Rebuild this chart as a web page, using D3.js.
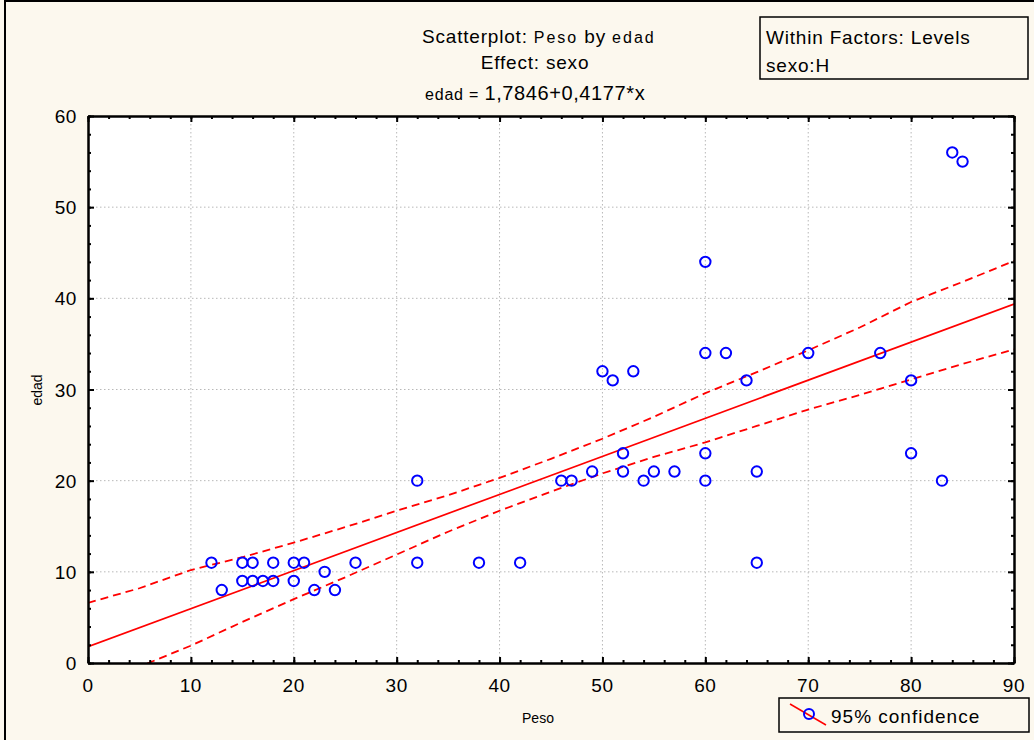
<!DOCTYPE html>
<html>
<head>
<meta charset="utf-8">
<script src="https://d3js.org/d3.v7.min.js"></script>
<style>
body { margin: 0; background: #fcf8ee; }
svg { display: block; font-family: "Liberation Sans", Arial, sans-serif; }
</style>
</head>
<body>
<div id="chart"></div>
<script>
// data
var peso = [12, 13, 15, 15, 16, 16, 17, 18, 18, 20, 20, 21, 22, 23, 24, 26,
            32, 32, 38, 42, 46, 47, 49, 50, 51, 52, 52, 53, 54, 55, 57,
            60, 60, 60, 60, 62, 64, 65, 65, 70, 77, 80, 80, 83, 84, 85];
var edad = [11, 8, 11, 9, 11, 9, 9, 11, 9, 11, 9, 11, 8, 10, 8, 11,
            20, 11, 11, 11, 20, 20, 21, 32, 31, 23, 21, 32, 20, 21, 21,
            44, 34, 23, 20, 34, 31, 21, 11, 34, 34, 31, 23, 20, 56, 55];

var intercept = 1.7846,
    slope = 0.4177;

// 95% confidence band
var bandX =     [0, 5, 10, 15, 20, 25, 30, 35, 40, 45, 50, 55, 60, 65, 70, 75, 80, 85, 90];
var bandUpper = [6.6, 8.2, 10.2, 11.6, 13.2, 14.9, 16.7, 18.4, 20.3, 22.4, 24.6, 27.0, 29.6, 31.9, 34.3, 36.8, 39.6, 41.8, 44.1];
var bandLower = [-3.0, -0.4, 1.9, 4.5, 7.0, 9.4, 11.9, 14.4, 16.7, 18.8, 20.8, 22.6, 24.2, 26.0, 27.8, 29.4, 31.1, 32.8, 34.4];

var xTicks = [0, 10, 20, 30, 40, 50, 60, 70, 80, 90];
var yTicks = [0, 10, 20, 30, 40, 50, 60];

(function() {
    var width = 1034,
        height = 740;

    var mLeft = 88, mRight = 1014, mTop = 116, mBottom = 663;

    var svg = d3.select("#chart")
        .append("svg")
        .attr("width", width)
        .attr("height", height);

    // outer frame
    svg.append("rect")
        .attr("x", 5).attr("y", 1)
        .attr("width", 1040).attr("height", 760)
        .attr("fill", "#fcf8ee")
        .attr("stroke", "#000")
        .attr("stroke-width", 2);

    var x = d3.scaleLinear().domain([0, 90]).range([mLeft, mRight]);
    var y = d3.scaleLinear().domain([0, 60]).range([mBottom, mTop]);

    svg.append("clipPath").attr("id", "plotclip")
        .append("rect")
        .attr("x", mLeft).attr("y", mTop)
        .attr("width", mRight - mLeft).attr("height", mBottom - mTop);

    svg.append("rect")
        .attr("x", mLeft).attr("y", mTop)
        .attr("width", mRight - mLeft).attr("height", mBottom - mTop)
        .attr("fill", "#fff");

    // grid
    var grid = svg.append("g");
    grid.selectAll(".gx")
        .data(xTicks.slice(1, -1))
        .enter().append("line")
        .attr("x1", function(d) { return x(d); })
        .attr("x2", function(d) { return x(d); })
        .attr("y1", mTop).attr("y2", mBottom)
        .attr("stroke", "#b8b8b8")
        .attr("stroke-dasharray", "1.5,2.5");
    grid.selectAll(".gy")
        .data(yTicks.slice(1, -1))
        .enter().append("line")
        .attr("y1", function(d) { return y(d); })
        .attr("y2", function(d) { return y(d); })
        .attr("x1", mLeft).attr("x2", mRight)
        .attr("stroke", "#b8b8b8")
        .attr("stroke-dasharray", "1.5,2.5");

    // fit and confidence band
    var plot = svg.append("g").attr("clip-path", "url(#plotclip)");

    plot.append("line")
        .attr("x1", x(0)).attr("y1", y(intercept))
        .attr("x2", x(90)).attr("y2", y(intercept + slope * 90))
        .attr("stroke", "#f00")
        .attr("stroke-width", 1.7);

    var band = d3.line()
        .x(function(d) { return x(d[0]); })
        .y(function(d) { return y(d[1]); });

    [bandUpper, bandLower].forEach(function(vals) {
        plot.append("path")
            .attr("d", band(bandX.map(function(v, i) { return [v, vals[i]]; })))
            .attr("fill", "none")
            .attr("stroke", "#f00")
            .attr("stroke-width", 1.8)
            .attr("stroke-dasharray", "8,5");
    });

    // points
    svg.selectAll(".pt")
        .data(peso)
        .enter().append("circle")
        .attr("class", "pt")
        .attr("cx", function(d) { return x(d); })
        .attr("cy", function(d, i) { return y(edad[i]); })
        .attr("r", 5.2)
        .attr("fill", "none")
        .attr("stroke", "#00f")
        .attr("stroke-width", 2);

    // axes with inner ticks on all sides
    function frameAxis(axis, tr) {
        var g = svg.append("g").attr("transform", tr).call(axis);
        g.selectAll("path, line").attr("stroke", "#000").attr("stroke-width", 2);
        g.selectAll("text").remove();
        return g;
    }
    var xMinor = d3.range(0, 91, 2), yMinor = d3.range(0, 61, 2);

    frameAxis(d3.axisBottom(x).tickValues(xMinor).tickSizeInner(-3).tickSizeOuter(0), "translate(0," + mBottom + ")");
    frameAxis(d3.axisBottom(x).tickValues(xTicks).tickSizeInner(-6).tickSizeOuter(0), "translate(0," + mBottom + ")");
    frameAxis(d3.axisTop(x).tickValues(xMinor).tickSizeInner(-3).tickSizeOuter(0), "translate(0," + mTop + ")");
    frameAxis(d3.axisTop(x).tickValues(xTicks).tickSizeInner(-6).tickSizeOuter(0), "translate(0," + mTop + ")");
    frameAxis(d3.axisLeft(y).tickValues(yMinor).tickSizeInner(-3).tickSizeOuter(0), "translate(" + mLeft + ",0)");
    frameAxis(d3.axisLeft(y).tickValues(yTicks).tickSizeInner(-6).tickSizeOuter(0), "translate(" + mLeft + ",0)");
    frameAxis(d3.axisRight(y).tickValues(yMinor).tickSizeInner(-3).tickSizeOuter(0), "translate(" + mRight + ",0)");
    frameAxis(d3.axisRight(y).tickValues(yTicks).tickSizeInner(-6).tickSizeOuter(0), "translate(" + mRight + ",0)");

    // tick labels
    svg.selectAll(".xl")
        .data(xTicks)
        .enter().append("text")
        .attr("x", function(d) { return x(d); })
        .attr("y", 692)
        .attr("text-anchor", "middle")
        .attr("font-size", 19)
        .attr("letter-spacing", 0.6)
        .text(function(d) { return d; });

    svg.selectAll(".yl")
        .data(yTicks)
        .enter().append("text")
        .attr("x", 77)
        .attr("y", function(d) { return y(d) + 7; })
        .attr("text-anchor", "end")
        .attr("font-size", 19)
        .attr("letter-spacing", 0.6)
        .text(function(d) { return d; });

    svg.append("text")
        .attr("x", 538).attr("y", 723)
        .attr("text-anchor", "middle")
        .attr("font-size", 14)
        .text("Peso");

    svg.append("text")
        .attr("transform", "translate(42,390) rotate(-90)")
        .attr("text-anchor", "middle")
        .attr("font-size", 14)
        .text("edad");

    // titles
    var t1 = svg.append("text").attr("x", 422).attr("y", 43)
        .attr("font-size", 19).attr("letter-spacing", 0.8);
    t1.append("tspan").text("Scatterplot:  ");
    t1.append("tspan").attr("font-size", 16).attr("letter-spacing", 2).text("Peso");
    t1.append("tspan").text(" by  ");
    t1.append("tspan").attr("font-size", 16).attr("letter-spacing", 2).text("edad");

    svg.append("text")
        .attr("x", 535).attr("y", 69)
        .attr("text-anchor", "middle")
        .attr("font-size", 19)
        .attr("letter-spacing", 0.8)
        .text("Effect: sexo");

    var t3 = svg.append("text").attr("x", 425).attr("y", 100)
        .attr("font-size", 20).attr("letter-spacing", 0.6);
    t3.append("tspan").attr("font-size", 16).attr("letter-spacing", 0.8).text("edad = ");
    t3.append("tspan").text("1,7846+0,4177*x");

    // factor box
    svg.append("rect")
        .attr("x", 760).attr("y", 17)
        .attr("width", 268).attr("height", 62)
        .attr("fill", "#fcf8ee")
        .attr("stroke", "#000")
        .attr("stroke-width", 1.5);
    svg.append("text").attr("x", 766).attr("y", 44)
        .attr("font-size", 19).attr("letter-spacing", 0.8)
        .text("Within Factors: Levels");
    svg.append("text").attr("x", 766).attr("y", 72)
        .attr("font-size", 19).attr("letter-spacing", 0.8)
        .text("sexo:H");

    // legend
    svg.append("rect")
        .attr("x", 779).attr("y", 698)
        .attr("width", 250).attr("height", 34)
        .attr("fill", "#fcf8ee")
        .attr("stroke", "#000")
        .attr("stroke-width", 1.5);
    svg.append("line")
        .attr("x1", 790).attr("y1", 704)
        .attr("x2", 826).attr("y2", 725)
        .attr("stroke", "#f00")
        .attr("stroke-width", 1.5);
    svg.append("circle")
        .attr("cx", 809).attr("cy", 714).attr("r", 5)
        .attr("fill", "none")
        .attr("stroke", "#00f")
        .attr("stroke-width", 2);
    svg.append("text").attr("x", 831).attr("y", 723)
        .attr("font-size", 19).attr("letter-spacing", 1)
        .text("95% confidence");
})();
</script>
</body>
</html>
